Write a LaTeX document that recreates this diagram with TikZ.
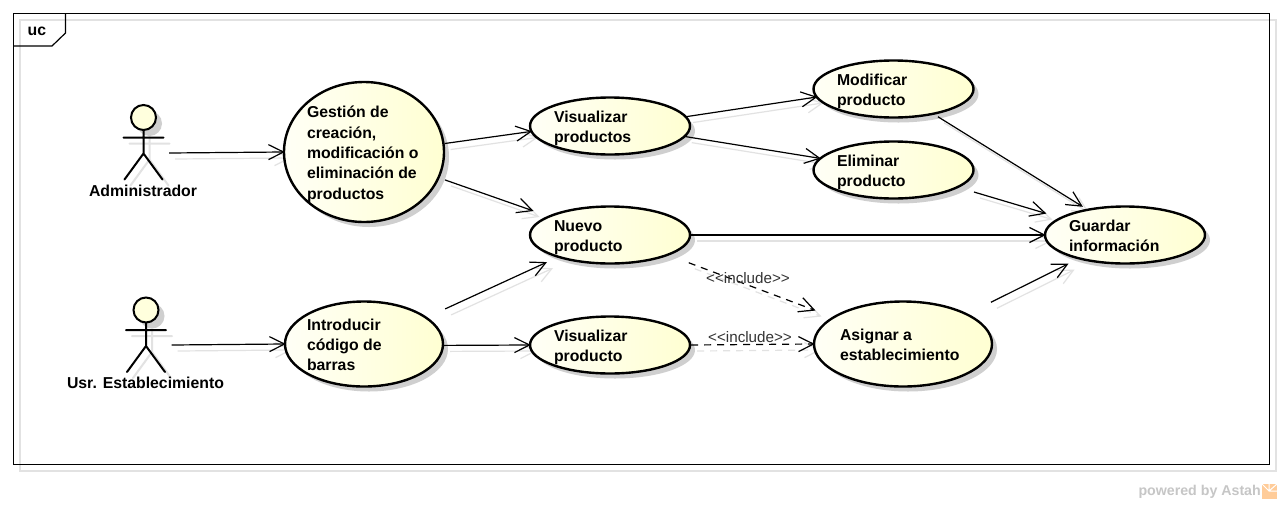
\documentclass[tikz,border=0pt]{standalone}
\usepackage{fontspec}
\setmainfont{Liberation Sans}
\usetikzlibrary{arrows.meta,shapes.geometric,shadows,backgrounds}
\definecolor{ucfill}{HTML}{FFFFDD}
\definecolor{uclight}{HTML}{FFFFF6}
\definecolor{ucdark}{HTML}{FFFFD2}
\definecolor{lineshade}{HTML}{E2E2E2}
\definecolor{ellshade}{HTML}{CFCFCF}
\definecolor{wm}{HTML}{C6C6C6}
\tikzset{
  uc/.style={ellipse,draw=black,line width=2.4pt,left color=uclight,right color=ucdark,inner sep=0pt,
    minimum width=#1,font=\fontsize{15.8}{20.3}\selectfont\bfseries,
    drop shadow={shadow xshift=5pt,shadow yshift=-5pt,fill=ellshade,opacity=1}},
  uc/.default=160pt,
  conn/.style={line width=1.2pt,-{Straight Barb[length=15pt,width=15pt]}},
  connshade/.style={line width=1.2pt,draw=lineshade,-{Straight Barb[length=15pt,width=15pt]}},
  actorline/.style={line width=2pt,line cap=round},
  actorshade/.style={line width=2pt,draw=lineshade,line cap=round},
  actorbox/.style={minimum width=51pt,minimum height=2pt,inner sep=0pt},
  lbl/.style={font=\fontsize{15.8}{20}\selectfont\bfseries,inner sep=0pt},
  inc/.style={font=\fontsize{15.2}{18}\selectfont,text=black!80,inner sep=0pt}
}
% #1 extra style, #2 from, #3 to, #4 shorten start, #5 shorten end
\newcommand\conn[5]{%
  \begin{pgfonlayer}{background}
    \draw[connshade,shorten <=#4pt,shorten >={#5pt-2pt},#1] ([shift={(6,6)}]#2) -- ([shift={(6,6)}]#3);
  \end{pgfonlayer}
  \draw[conn,shorten <=#4pt,shorten >={#5pt-2pt},#1] (#2) -- (#3);}
% left-aligned text at an offset from the ellipse's centre
\newcommand\uct[2]{\makebox[0pt][l]{\hspace*{#1pt}\raisebox{-6pt}[0pt][0pt]{\begin{tabular}{@{}l@{}}#2\end{tabular}}}}
\newcommand\actorfig[2]{%
  \begin{pgfonlayer}{background}
    \begin{scope}[shift={(#1+6,#2+6)}]
      \fill[ellshade] (0,0) circle (12.5);
      \draw[actorshade] (0,13)--(0,36) (-20,20)--(20,20) (-19,62)--(0,36)--(19,62);
    \end{scope}
  \end{pgfonlayer}
  \begin{scope}[shift={(#1,#2)}]
    \draw[actorline,fill=ucfill] (0,0) circle (12.5);
    \draw[actorline] (0,12.5)--(0,36) (-20,20)--(20,20) (-19,62)--(0,36)--(19,62);
  \end{scope}}
\begin{document}
\begin{tikzpicture}[x=1pt,y=-1pt]
\useasboundingbox (0,0) rectangle (1282,504);
\begin{pgfonlayer}{background}
\fill[white] (0,0) rectangle (1282,504);
\node[draw=lineshade,line width=1.4pt,minimum width=1256pt,minimum height=451pt,inner sep=0pt] (frameshade) at (648,245.5) {};
\end{pgfonlayer}
% frame
\node[draw=black,line width=1.2pt,minimum width=1256pt,minimum height=451pt,inner sep=0pt] (frame) at (641.5,239) {};
\draw[line width=1.2pt] (13.5,46) -- (52,46) -- (65.5,33) -- (65.5,13.5);
\node[lbl,anchor=west] (uclabel) at (27.5,31) {uc};
% use cases
\node[uc,minimum height=140pt] (gestion) at (364,152) {\uct{-57}{Gestión de\\creación,\\modificación o\\eliminación de\\productos}};
\node[uc,minimum height=57pt] (vps) at (610,126) {\uct{-56}{Visualizar\\productos}};
\node[uc,minimum height=57pt] (modif) at (893.5,89) {\uct{-56.5}{Modificar\\producto}};
\node[uc,minimum height=57pt] (elim) at (893.5,170) {\uct{-56.5}{Eliminar\\producto}};
\node[uc,minimum height=57pt] (nuevo) at (610,235) {\uct{-56}{Nuevo\\producto}};
\node[uc,minimum height=57pt] (guardar) at (1125,235) {\uct{-56}{Guardar\\información}};
\node[uc=158pt,minimum height=85pt] (intro) at (364,344) {\uct{-57}{Introducir\\código de\\barras}};
\node[uc,minimum height=57pt] (vpt) at (610,345) {\uct{-56}{Visualizar\\producto}};
\node[uc=178pt,minimum height=85pt] (asignar) at (903,344) {\uct{-63}{Asignar a\\establecimiento}};
% actors
\actorfig{143.5}{117.5}
\actorfig{146}{310}
\node[actorbox] (admin) at (143.5,153) {};
\node[actorbox] (usr) at (146,345) {};
\node[lbl] (adminlabel) at (143,190.5) {Administrador};
\node[lbl] (usrlabel) at (145.5,382.5) {Usr. Establecimiento};
% connectors
\conn{}{admin.east}{gestion.180.7}{0}{0}
\conn{}{usr.east}{intro.180.7}{0}{0}
\conn{}{gestion.6.5}{vps.184.2}{0}{0}
\conn{}{gestion.-19.2}{nuevo.163.9}{5.8}{17}
\conn{}{vps.7}{modif.186.5}{0}{0}
\conn{}{vps.-8.5}{elim.171.3}{0}{0}
\conn{}{modif.-32}{guardar.146.3}{4}{6}
\conn{}{elim.-15.3}{guardar.165}{15.6}{15.6}
\conn{}{nuevo.east}{guardar.west}{0}{0}
\conn{}{asignar.25.7}{guardar.207.4}{25.6}{12.2}
\conn{}{intro.23.5}{nuevo.203.9}{19.7}{13}
\conn{}{intro.359.3}{vpt.west}{0}{0}
\conn{dash pattern=on 7pt off 6pt}{vpt.east}{asignar.180.7}{0}{0}
\conn{dash pattern=on 7pt off 6pt}{nuevo.-19.5}{asignar.159.5}{21}{20}
\node[inc] (inc1) at (748,278) {<{}<include>{}>};
\node[inc] (inc2) at (750,337) {<{}<include>{}>};
% watermark
\node[font=\fontsize{14.2}{16}\selectfont\bfseries,text=wm,inner sep=0pt,anchor=east] (wmark) at (1261,491.5) {powered by Astah};
\fill[orange!40!white] (1262,484) rectangle (1277,499);
\draw[white,line width=1pt] (1262,484)--(1269,491)--(1277,484) (1269,484)--(1269,491)--(1277,491);
\end{tikzpicture}
\end{document}
